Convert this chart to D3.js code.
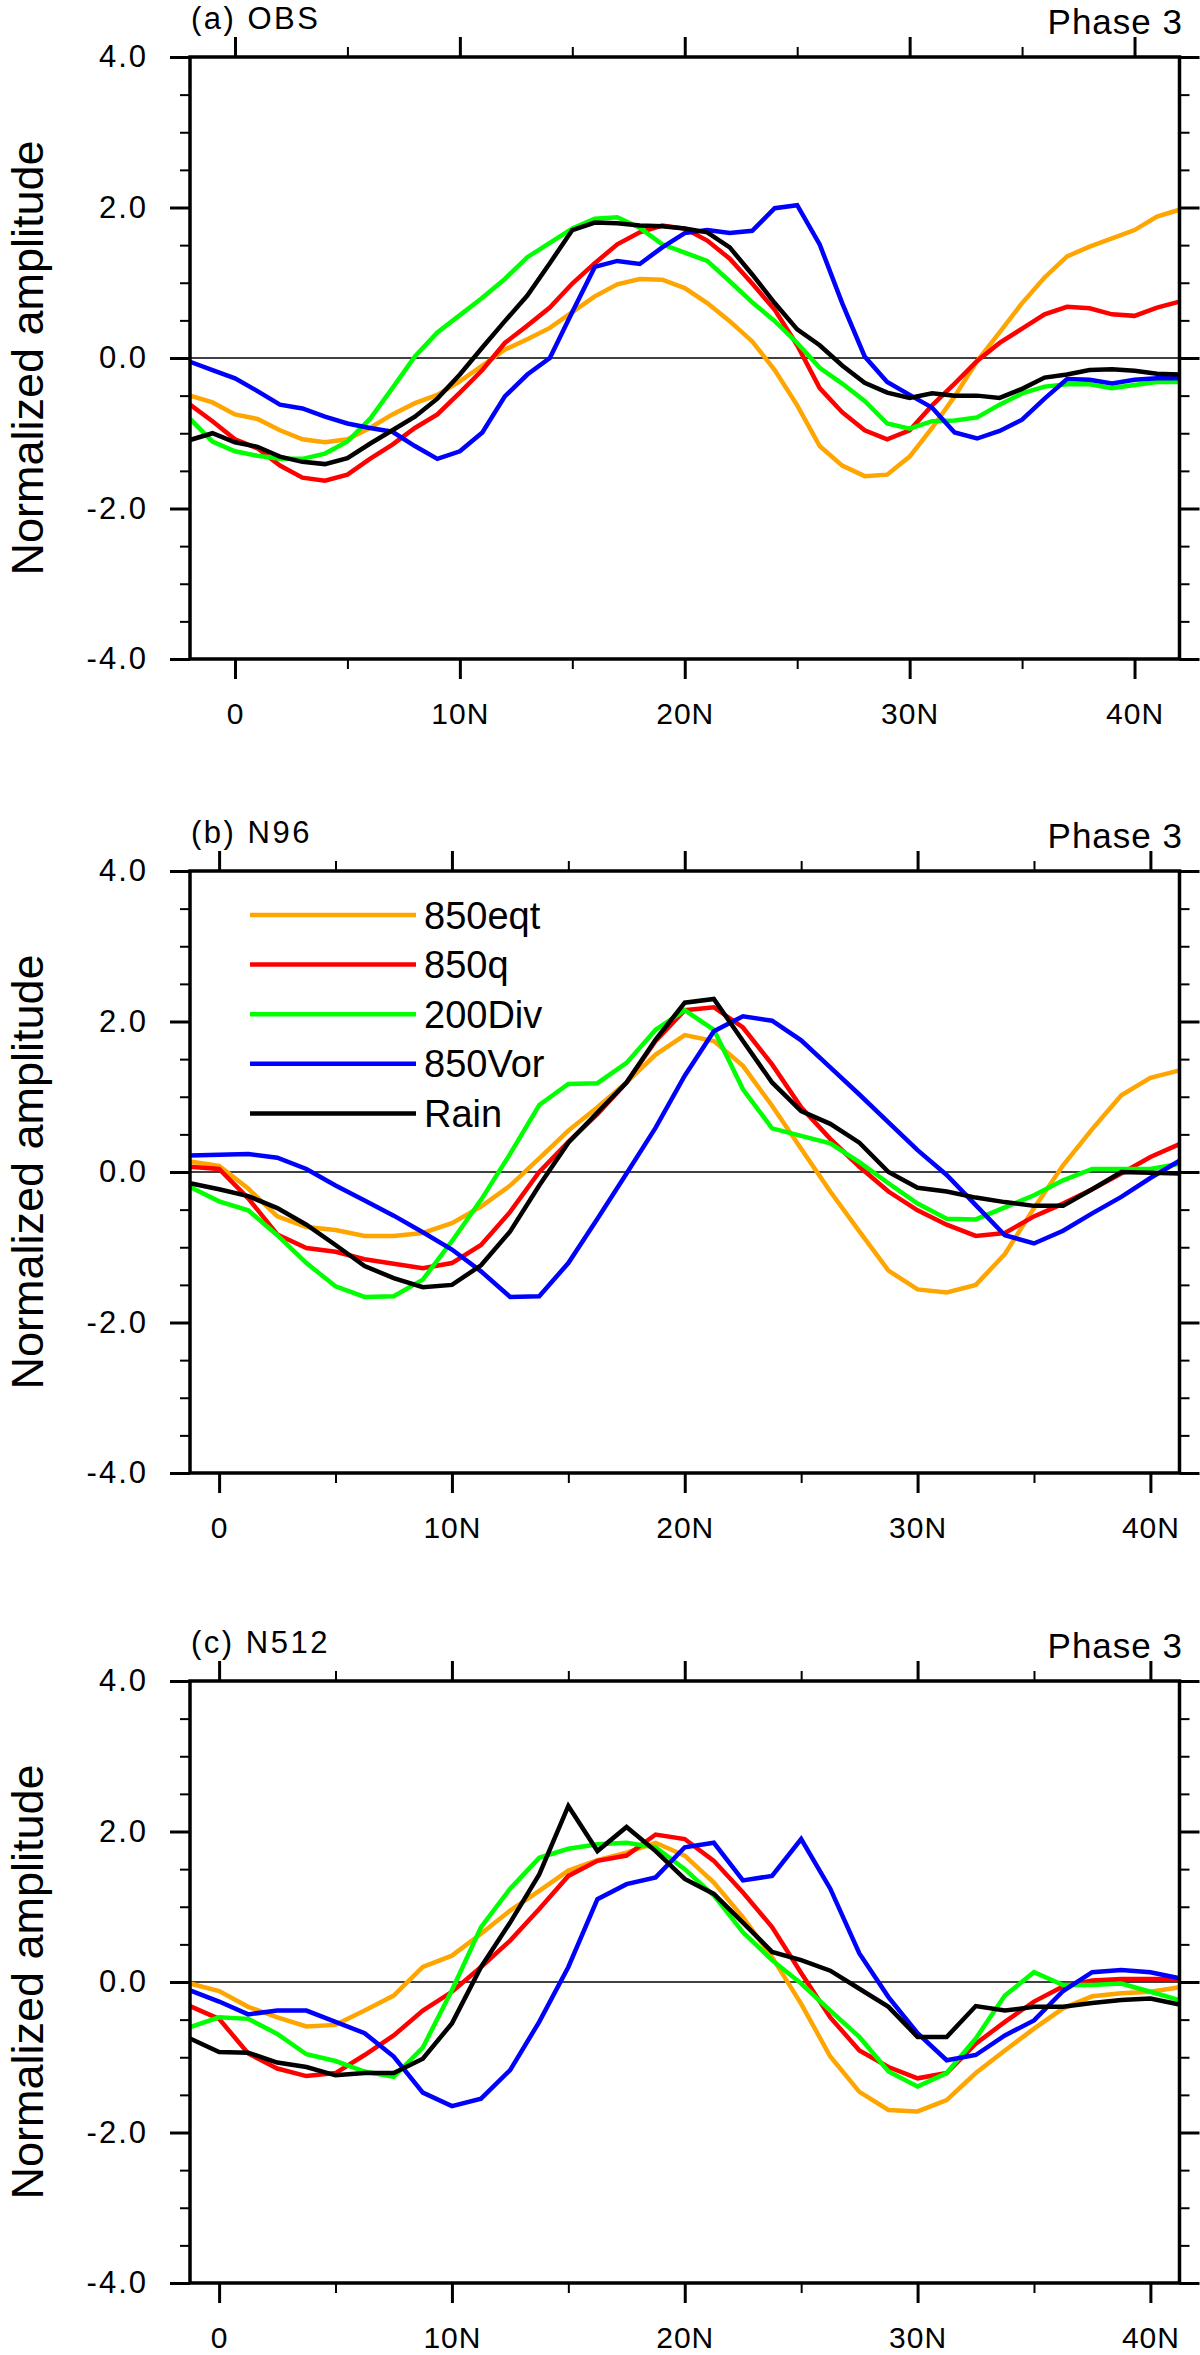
<!DOCTYPE html>
<html>
<head>
<meta charset="utf-8">
<script src="https://cdn.jsdelivr.net/npm/d3@7"></script>
<style>
  body { margin: 0; background: #fff; }
  text { font-family: "Liberation Sans", Arial, Helvetica, sans-serif; fill: #000; }
</style>
</head>
<body>
<div id="chart"></div>
<script>
// latitudes
var latObs = [-2,-1,0,1,2,3,4,5,6,7,8,9,10,11,12,13,14,15,16,17,18,19,20,21,22,23,24,25,26,27,28,29,30,31,32,33,34,35,36,37,38,39,40,41,42];
var latModel = [-1.25,0,1.25,2.5,3.75,5,6.25,7.5,8.75,10,11.25,12.5,13.75,15,16.25,17.5,18.75,20,21.25,22.5,23.75,25,26.25,27.5,28.75,30,31.25,32.5,33.75,35,36.25,37.5,38.75,40,41.25];

// (a) OBS
var eqtObs = [-0.50,-0.59,-0.75,-0.81,-0.96,-1.08,-1.12,-1.08,-0.93,-0.75,-0.60,-0.49,-0.31,-0.10,0.11,0.25,0.40,0.61,0.82,0.98,1.05,1.04,0.93,0.73,0.49,0.22,-0.16,-0.63,-1.17,-1.43,-1.57,-1.55,-1.31,-0.93,-0.51,-0.04,0.34,0.73,1.07,1.35,1.48,1.59,1.70,1.88,1.97];
var qObs = [-0.62,-0.84,-1.08,-1.20,-1.43,-1.59,-1.63,-1.55,-1.34,-1.15,-0.93,-0.75,-0.46,-0.16,0.20,0.43,0.67,0.99,1.26,1.51,1.67,1.76,1.72,1.56,1.32,0.99,0.64,0.17,-0.40,-0.72,-0.96,-1.08,-0.96,-0.63,-0.34,-0.04,0.20,0.39,0.58,0.68,0.66,0.58,0.56,0.67,0.75];
var divObs = [-0.81,-1.11,-1.24,-1.30,-1.34,-1.34,-1.27,-1.11,-0.81,-0.40,0.02,0.34,0.57,0.80,1.05,1.34,1.53,1.72,1.85,1.87,1.73,1.51,1.40,1.29,1.02,0.74,0.49,0.20,-0.13,-0.34,-0.57,-0.87,-0.94,-0.84,-0.83,-0.79,-0.62,-0.47,-0.38,-0.35,-0.35,-0.40,-0.36,-0.32,-0.32];
var vorObs = [-0.05,-0.16,-0.27,-0.44,-0.62,-0.67,-0.78,-0.87,-0.93,-0.98,-1.17,-1.34,-1.24,-0.99,-0.51,-0.22,0.00,0.61,1.21,1.29,1.25,1.47,1.66,1.70,1.66,1.69,1.99,2.03,1.51,0.73,0.02,-0.32,-0.49,-0.66,-0.99,-1.07,-0.97,-0.82,-0.54,-0.28,-0.29,-0.34,-0.29,-0.27,-0.27];
var rainObs = [-1.09,-1.00,-1.12,-1.18,-1.31,-1.38,-1.41,-1.33,-1.14,-0.96,-0.78,-0.54,-0.22,0.14,0.49,0.83,1.26,1.70,1.80,1.79,1.76,1.75,1.72,1.67,1.47,1.11,0.73,0.38,0.17,-0.10,-0.33,-0.46,-0.53,-0.47,-0.50,-0.50,-0.53,-0.41,-0.26,-0.22,-0.16,-0.15,-0.17,-0.21,-0.22];

// (b) N96
var eqtN96 = [0.14,0.08,-0.22,-0.59,-0.73,-0.77,-0.85,-0.85,-0.81,-0.68,-0.46,-0.18,0.18,0.55,0.86,1.19,1.56,1.82,1.74,1.41,0.88,0.31,-0.26,-0.79,-1.31,-1.56,-1.60,-1.50,-1.09,-0.48,0.09,0.57,1.02,1.25,1.35];
var qN96 = [0.07,0.04,-0.35,-0.83,-1.01,-1.06,-1.16,-1.22,-1.28,-1.21,-0.97,-0.53,0.00,0.40,0.77,1.19,1.74,2.15,2.19,1.92,1.43,0.86,0.44,0.07,-0.26,-0.51,-0.70,-0.85,-0.81,-0.59,-0.42,-0.23,-0.02,0.20,0.37];
var divN96 = [-0.20,-0.39,-0.51,-0.84,-1.21,-1.52,-1.66,-1.65,-1.43,-0.92,-0.37,0.24,0.89,1.17,1.18,1.45,1.89,2.15,1.89,1.10,0.58,0.48,0.38,0.13,-0.15,-0.42,-0.62,-0.63,-0.47,-0.31,-0.11,0.04,0.04,0.04,0.11];
var vorN96 = [0.22,0.23,0.24,0.19,0.04,-0.18,-0.38,-0.58,-0.80,-1.03,-1.32,-1.66,-1.65,-1.21,-0.62,-0.02,0.59,1.28,1.87,2.07,2.01,1.75,1.39,1.03,0.66,0.29,-0.04,-0.44,-0.84,-0.95,-0.78,-0.55,-0.33,-0.08,0.15];
var rainN96 = [-0.15,-0.23,-0.32,-0.48,-0.70,-0.97,-1.25,-1.41,-1.53,-1.50,-1.24,-0.79,-0.18,0.39,0.79,1.19,1.76,2.25,2.30,1.74,1.19,0.81,0.64,0.39,0.00,-0.21,-0.26,-0.34,-0.40,-0.45,-0.45,-0.23,0.00,-0.01,-0.02];

// (c) N512
var eqtN512 = [-0.02,-0.12,-0.33,-0.47,-0.59,-0.57,-0.38,-0.18,0.20,0.35,0.64,0.95,1.21,1.48,1.62,1.72,1.85,1.68,1.32,0.86,0.33,-0.29,-0.99,-1.46,-1.70,-1.72,-1.57,-1.21,-0.91,-0.62,-0.35,-0.19,-0.15,-0.13,-0.07];
var qN512 = [-0.32,-0.49,-0.95,-1.15,-1.25,-1.21,-0.97,-0.71,-0.38,-0.13,0.20,0.55,0.97,1.41,1.61,1.68,1.96,1.90,1.61,1.19,0.73,0.12,-0.47,-0.91,-1.13,-1.28,-1.21,-0.82,-0.53,-0.26,-0.06,0.02,0.04,0.04,0.04];
var divN512 = [-0.60,-0.47,-0.49,-0.69,-0.96,-1.05,-1.19,-1.26,-0.87,-0.11,0.73,1.24,1.65,1.77,1.83,1.85,1.79,1.50,1.15,0.66,0.29,-0.02,-0.38,-0.73,-1.19,-1.39,-1.21,-0.75,-0.18,0.13,-0.04,-0.04,-0.02,-0.13,-0.24];
var vorN512 = [-0.11,-0.26,-0.43,-0.38,-0.38,-0.53,-0.68,-0.99,-1.47,-1.65,-1.55,-1.17,-0.53,0.20,1.10,1.30,1.39,1.79,1.85,1.35,1.41,1.90,1.24,0.38,-0.20,-0.68,-1.04,-0.97,-0.71,-0.51,-0.12,0.13,0.16,0.13,0.05];
var rainN512 = [-0.75,-0.93,-0.94,-1.07,-1.13,-1.24,-1.21,-1.21,-1.02,-0.55,0.20,0.79,1.43,2.34,1.74,2.06,1.74,1.37,1.17,0.79,0.40,0.29,0.15,-0.09,-0.33,-0.73,-0.73,-0.32,-0.38,-0.33,-0.33,-0.28,-0.24,-0.22,-0.30];

var seriesNames = ["850eqt", "850q", "200Div", "850Vor", "Rain"];
var seriesColors = ["#FFA500", "#FF0000", "#00FF00", "#0000FF", "#000000"];
var yTicks = [-4, -2, 0, 2, 4];
var xTicks = [0, 10, 20, 30, 40];
var xMinorTicks = [5, 15, 25, 35];
var phaseLabel = "Phase 3";
var yTitle = "Normalized amplitude";

var panels = [
  { tag: "(a) OBS", top: 57, lat: latObs, series: [eqtObs, qObs, divObs, vorObs, rainObs], legend: false },
  { tag: "(b) N96", top: 871, lat: latModel, series: [eqtN96, qN96, divN96, vorN96, rainN96], legend: true },
  { tag: "(c) N512", top: 1681, lat: latModel, series: [eqtN512, qN512, divN512, vorN512, rainN512], legend: false }
];

var plotLeft = 190, plotRight = 1179.5, plotH = 602;

var svg = d3.select("#chart")
  .append("svg")
  .attr("width", 1200)
  .attr("height", 2355);

function latFormat(d) { return d === 0 ? "0" : d + "N"; }

function styleAxis(g, width, fontSize, spacing) {
  g.select(".domain").remove();
  g.selectAll(".tick line").attr("stroke", "#000").attr("stroke-width", width);
  g.selectAll(".tick text")
    .style("font-size", fontSize + "px")
    .style("letter-spacing", (spacing || 0) + "px")
    .attr("fill", "#000");
}

panels.forEach(function(p) {
  var x = d3.scaleLinear().domain(d3.extent(p.lat)).range([plotLeft, plotRight]);
  var y = d3.scaleLinear().domain([-4, 4]).range([p.top + plotH, p.top]);
  var bottom = p.top + plotH;
  var yMinor = d3.range(-4, 4.001, 0.5).filter(function(v) { return yTicks.indexOf(v) < 0; });

  var g = svg.append("g");

  // minor ticks
  g.append("g").attr("transform", "translate(0," + bottom + ")")
    .call(d3.axisBottom(x).tickValues(xMinorTicks).tickSize(10).tickFormat(""))
    .call(styleAxis, 2, 0);
  g.append("g").attr("transform", "translate(0," + p.top + ")")
    .call(d3.axisTop(x).tickValues(xMinorTicks).tickSize(10).tickFormat(""))
    .call(styleAxis, 2, 0);
  g.append("g").attr("transform", "translate(" + plotLeft + ",0)")
    .call(d3.axisLeft(y).tickValues(yMinor).tickSize(10).tickFormat(""))
    .call(styleAxis, 2, 0);
  g.append("g").attr("transform", "translate(" + plotRight + ",0)")
    .call(d3.axisRight(y).tickValues(yMinor).tickSize(10).tickFormat(""))
    .call(styleAxis, 2, 0);

  // major ticks
  g.append("g").attr("transform", "translate(0," + bottom + ")")
    .call(d3.axisBottom(x).tickValues(xTicks).tickSize(20).tickPadding(24).tickFormat(latFormat))
    .call(styleAxis, 3, 30, 1);
  g.append("g").attr("transform", "translate(0," + p.top + ")")
    .call(d3.axisTop(x).tickValues(xTicks).tickSize(20).tickFormat(""))
    .call(styleAxis, 3, 0);
  g.append("g").attr("transform", "translate(" + plotLeft + ",0)")
    .call(d3.axisLeft(y).tickValues(yTicks).tickSize(20).tickPadding(22)
      .tickFormat(function(d) { return d.toFixed(1); }))
    .call(styleAxis, 3, 31, 2);
  g.append("g").attr("transform", "translate(" + plotRight + ",0)")
    .call(d3.axisRight(y).tickValues(yTicks).tickSize(20).tickFormat(""))
    .call(styleAxis, 3, 0);

  // zero line
  g.append("line")
    .attr("x1", plotLeft).attr("x2", plotRight)
    .attr("y1", y(0)).attr("y2", y(0))
    .attr("stroke", "#000")
    .attr("stroke-width", 1.6);

  // series
  var line = d3.line()
    .x(function(d, i) { return x(p.lat[i]); })
    .y(function(d) { return y(d); });

  p.series.forEach(function(vals, k) {
    g.append("path")
      .datum(vals)
      .attr("d", line)
      .attr("fill", "none")
      .attr("stroke", seriesColors[k])
      .attr("stroke-width", 4.5);
  });

  // frame
  g.append("rect")
    .attr("x", plotLeft).attr("y", p.top)
    .attr("width", plotRight - plotLeft).attr("height", plotH)
    .attr("fill", "none")
    .attr("stroke", "#000")
    .attr("stroke-width", 3.5);

  // titles
  g.append("text")
    .attr("x", plotLeft + 1)
    .attr("y", p.top - 28)
    .style("font-size", "31px")
    .style("letter-spacing", "2.5px")
    .text(p.tag);

  g.append("text")
    .attr("x", 1183)
    .attr("y", p.top - 23)
    .style("font-size", "35px")
    .style("letter-spacing", "1px")
    .style("text-anchor", "end")
    .text(phaseLabel);

  g.append("text")
    .attr("transform", "translate(43," + (p.top + plotH / 2) + ") rotate(-90)")
    .style("font-size", "45px")
    .style("text-anchor", "middle")
    .text(yTitle);

  if (p.legend) {
    seriesNames.forEach(function(name, k) {
      var ly = p.top + 44 + k * 49.6;
      g.append("line")
        .attr("x1", plotLeft + 60).attr("x2", plotLeft + 226)
        .attr("y1", ly).attr("y2", ly)
        .attr("stroke", seriesColors[k])
        .attr("stroke-width", 4.5);
      g.append("text")
        .attr("x", plotLeft + 234)
        .attr("y", ly)
        .attr("dy", "0.36em")
        .style("font-size", "38px")
        .text(name);
    });
  }
});
</script>
</body>
</html>
